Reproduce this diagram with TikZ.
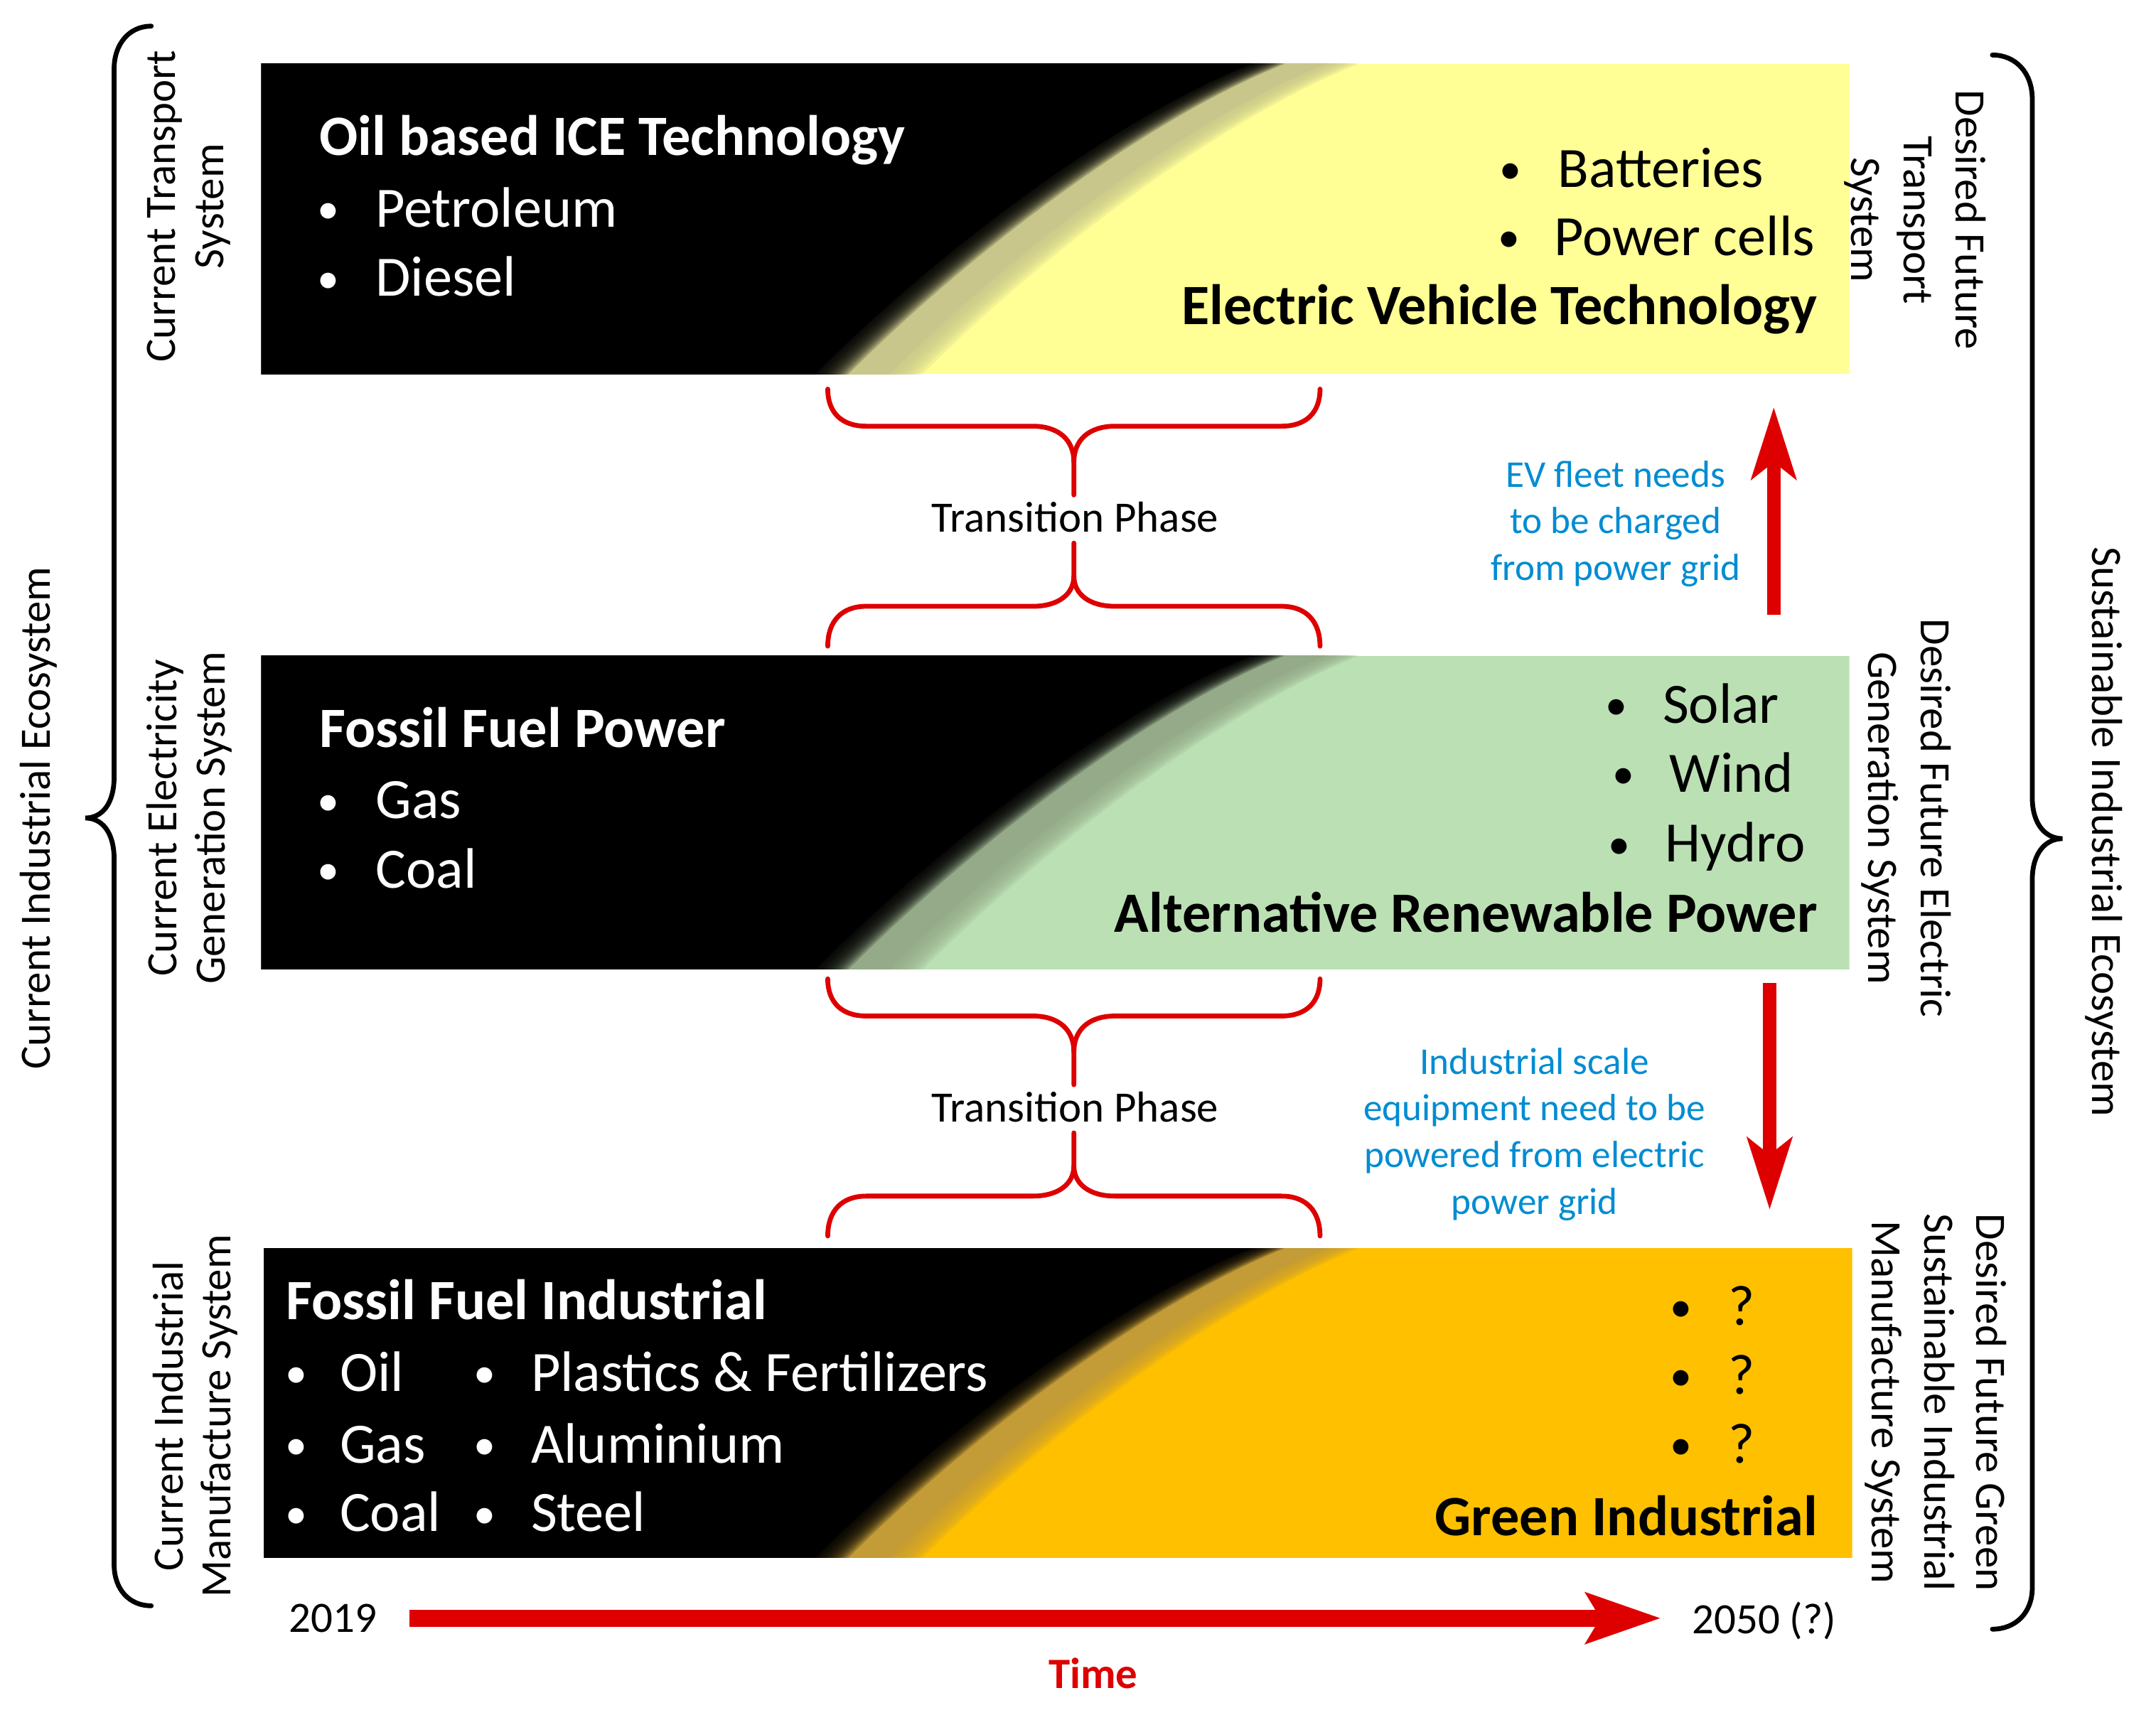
\documentclass[tikz,border=0pt]{standalone}
\usepackage{fontspec}
\setmainfont{Carlito}
\usetikzlibrary{arrows.meta}
\definecolor{evyellow}{RGB}{255,255,150}
\definecolor{evband}{RGB}{200,198,138}
\definecolor{regreen}{RGB}{187,224,180}
\definecolor{reband}{RGB}{148,170,136}
\definecolor{gorange}{RGB}{255,192,0}
\definecolor{goband}{RGB}{195,155,55}
\definecolor{arrowred}{RGB}{222,0,0}
\definecolor{noteblue}{RGB}{0,140,210}
% region left of the transition edge, shifted right by #1
\newcommand{\edgefill}[4]{%
  \fill[#4] (100,#3+3) -- (605+#1,#3+3) -- (605+#1,#3)
    .. controls (695+#1,#3-90) and (822+#1,#2+40) .. (922+#1,#2)
    -- (922+#1,#2-3) -- (100,#2-3) -- cycle;}
% panel: #1 left x, #2 top y, #3 bottom y, #4 colour, #5 band colour
\newcommand{\trpanel}[5]{%
  \begin{scope}
    \clip (#1,#2) rectangle (#1+1155,#3);
    \fill[#4] (#1,#2) rectangle (#1+1155,#3);
    \edgefill{42}{#2}{#3}{#5}
    \foreach \s in {45,48,...,66} {\edgefill{\s}{#2}{#3}{#5, fill opacity=0.22}}
    \edgefill{-12}{#2}{#3}{black}
    \foreach \s in {-10,-8,...,12} {\edgefill{\s}{#2}{#3}{black, fill opacity=0.2}}
  \end{scope}}
\newcommand{\bul}[2]{\makebox[#1pt][l]{\hspace{2.5pt}\raisebox{2.5pt}{\fontsize{32}{32}\selectfont •}}#2}
\begin{document}
\begin{tikzpicture}[x=1pt,y=-1pt,
  big/.style={font=\fontsize{41.5}{50}\selectfont, inner sep=0pt},
  bigb/.style={font=\fontsize{41.5}{50}\selectfont\bfseries, inner sep=0pt},
  lab/.style={font=\fontsize{31.5}{35}\selectfont, align=center, inner sep=0pt},
  labr/.style={font=\fontsize{31.5}{38}\selectfont, align=center, inner sep=0pt},
  note/.style={font=\fontsize{27.5}{34}\selectfont, text=noteblue, align=center, inner sep=0pt},
  redbrace/.style={draw=arrowred, line width=3.5pt, line cap=round},
  bigbrace/.style={draw=black, line width=3.5pt, line cap=round},
  bigarrow/.style={draw=arrowred, -{Stealth[length=52pt,width=32pt,inset=12pt]}, line width=10pt}]
\useasboundingbox (0,0) rectangle (1568,1251);
\fill[white] (0,0) rectangle (1568,1251);

% panels
\trpanel{190}{46.5}{272}{evyellow}{evband}
\trpanel{190}{477}{705}{regreen}{reband}
\trpanel{192}{908}{1133}{gorange}{goband}

% top panel texts
\node[bigb, text=white, anchor=base west] (iceT) at (232,113) {Oil based ICE Technology};
\node[big, text=white, anchor=base west] (iceA) at (228,165) {\bul{45}{Petroleum}};
\node[big, text=white, anchor=base west] (iceB) at (228,215.5) {\bul{45}{Diesel}};
\node[big, anchor=base west] (evA1) at (1088,136) {\bul{45}{Batteries}};
\node[big, anchor=base west] (evA2) at (1087,186) {\bul{43}{Power cells}};
\node[bigb, anchor=base east] (evT) at (1322,236) {Electric Vehicle Technology};

% middle panel texts
\node[bigb, text=white, anchor=base west] (ffpT) at (232,543.5) {Fossil Fuel Power};
\node[big, text=white, anchor=base west] (ffpA) at (228,595.5) {\bul{45}{Gas}};
\node[big, text=white, anchor=base west] (ffpB) at (228,646) {\bul{45}{Coal}};
\node[big, anchor=base west] (arpA) at (1165,526) {\bul{44}{Solar}};
\node[big, anchor=base west] (arpB) at (1170,576) {\bul{44}{Wind}};
\node[big, anchor=base west] (arpC) at (1167,627) {\bul{44}{Hydro}};
\node[bigb, anchor=base east] (arpT) at (1322,678) {Alternative Renewable Power};

% bottom panel texts
\node[bigb, text=white, anchor=base west] (ffiT) at (208,960) {Fossil Fuel Industrial};
\node[big, text=white, anchor=base west] (ffiA) at (205,1012) {\bul{42}{Oil}};
\node[big, text=white, anchor=base west] (ffiB) at (205,1064) {\bul{42}{Gas}};
\node[big, text=white, anchor=base west] (ffiC) at (205,1114) {\bul{42}{Coal}};
\node[big, text=white, anchor=base west] (ffiD) at (342,1012) {\bul{44}{Plastics \& Fertilizers}};
\node[big, text=white, anchor=base west] (ffiE) at (342,1064) {\bul{44}{Aluminium}};
\node[big, text=white, anchor=base west] (ffiF) at (342,1114) {\bul{44}{Steel}};
\node[big, anchor=base west] (giA) at (1212,964) {\bul{45}{?}};
\node[big, anchor=base west] (giB) at (1212,1014) {\bul{45}{?}};
\node[big, anchor=base west] (giC) at (1212,1064) {\bul{45}{?}};
\node[bigb, anchor=base east] (giT) at (1322,1117) {Green Industrial};

% transition braces
\foreach \dy/\nm in {0/tpA,429/tpB} {
\begin{scope}[shift={(0,\dy)}]
  \draw[redbrace] (602,283) .. controls (602,300) and (612,310) .. (630,310) -- (751,310)
     .. controls (770,310) and (781,320) .. (781,336) -- (781,360);
  \draw[redbrace] (960,283) .. controls (960,300) and (950,310) .. (932,310) -- (811,310)
     .. controls (792,310) and (781,320) .. (781,336);
  \draw[redbrace] (781,395) -- (781,419) .. controls (781,432) and (770,441) .. (751,441)
     -- (630,441) .. controls (612,441) and (602,452) .. (602,470);
  \draw[redbrace] (781,419) .. controls (781,432) and (792,441) .. (811,441)
     -- (932,441) .. controls (950,441) and (960,452) .. (960,470);
  \node[lab] (\nm) at (782,376) {Transition Phase};
\end{scope}}

% big braces
\draw[bigbrace] (110,19) .. controls (94,19) and (83,32) .. (83,50) -- (83,565)
   .. controls (83,585) and (74,595) .. (62,595)
   .. controls (74,595) and (83,605) .. (83,625) -- (83,1138)
   .. controls (83,1156) and (94,1168) .. (110,1168);
\draw[bigbrace] (1449,40) .. controls (1466,40) and (1478,53) .. (1478,72) -- (1478,580)
   .. controls (1478,600) and (1488,610) .. (1500,610)
   .. controls (1488,610) and (1478,620) .. (1478,640) -- (1478,1155)
   .. controls (1478,1173) and (1466,1185) .. (1449,1185);

% side labels
\node[lab, rotate=90] (ciE) at (28,595) {Current Industrial Ecosystem};
\node[lab, rotate=90] (ctsL) at (137.5,150) {Current Transport\\System};
\node[lab, rotate=90] (cegL) at (137.5,595) {Current Electricity\\Generation System};
\node[lab, rotate=90] (cimL) at (142,1030) {Current Industrial\\Manufacture System};
\node[lab, rotate=-90] (sieL) at (1530,605) {Sustainable Industrial Ecosystem};
\node[labr, rotate=-90] (dftL) at (1393,160) {Desired Future\\Transport\\System};
\node[labr, rotate=-90] (dfeL) at (1386.5,595) {Desired Future Electric\\Generation System};
\node[labr, rotate=-90] (dfgL) at (1408,1020) {Desired Future Green\\Sustainable Industrial\\Manufacture System};

% notes and arrows
\node[note] (evN) at (1175,381) {EV fleet needs\\to be charged\\from power grid};
\node[note] (isN) at (1116,825) {Industrial scale\\equipment need to be\\powered from electric\\power grid};
\coordinate (upA) at (1290,447);
\coordinate (upB) at (1290,296);
\draw[bigarrow] (upA) -- (upB);
\coordinate (dnA) at (1287,715);
\coordinate (dnB) at (1287,880);
\draw[bigarrow] (dnA) -- (dnB);

% time axis
\node[lab] (y19) at (242,1177) {2019};
\node[lab] (y50) at (1283,1179) {2050 (?)};
\node[lab, text=arrowred, font=\fontsize{31.5}{35}\selectfont\bfseries] (time) at (795,1217) {Time};
\coordinate (tA) at (298,1177);
\coordinate (tB) at (1208,1177);
\draw[draw=arrowred, -{Stealth[length=54pt,width=36pt,inset=10pt]}, line width=12.5pt] (tA) -- (tB);
\end{tikzpicture}
\end{document}
